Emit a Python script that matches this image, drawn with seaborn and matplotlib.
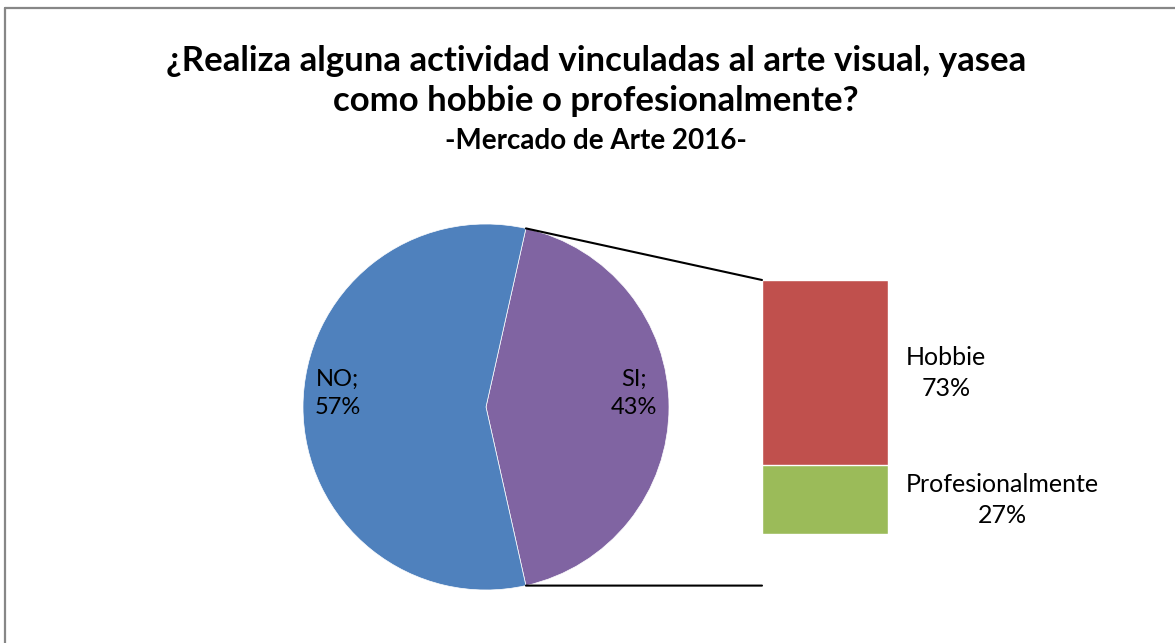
import matplotlib.pyplot as plt
import pandas as pd
import seaborn as sns
import numpy as np
from matplotlib.patches import ConnectionPatch
from matplotlib.lines import Line2D
from matplotlib.transforms import blended_transform_factory

sns.set_theme(style="white")
plt.rcParams["font.family"] = ["Lato", "DejaVu Sans"]
plt.rcParams["text.color"] = "black"

# pie data
pieLabels = ["SI", "NO"]
pieValues = [43, 57]
pieColors = ["#8064A2", "#4F81BD"]

# breakdown of "SI"
barLabels = ["Profesionalmente", "Hobbie"]
barValues = [27, 73]
barColors = ["#9BBB59", "#C0504D"]

titleLines = ["¿Realiza alguna actividad vinculadas al arte visual, yasea",
              "como hobbie o profesionalmente?"]
subTitle = "-Mercado de Arte 2016-"

W, H = 1175, 643
fig = plt.figure(figsize=(W / 100, H / 100), dpi=100)

# frame around chart
fig.add_artist(Line2D([5 / W, 5 / W], [0, 1 - 8 / H], color="#878787", lw=1.6, transform=fig.transFigure))
fig.add_artist(Line2D([5 / W, 1], [1 - 8 / H, 1 - 8 / H], color="#878787", lw=1.6, transform=fig.transFigure))

# pie
axPie = fig.add_axes([303 / W, 53 / H, 366 / W, 366 / H])
startAng = -pieValues[0] / 100 * 180
wedges, texts, autotexts = axPie.pie(
    pieValues, colors=pieColors, startangle=startAng, counterclock=True,
    autopct="%d%%", pctdistance=0.81, radius=1,
    wedgeprops=dict(edgecolor="white", linewidth=0.5),
    textprops=dict(fontsize=17, color="black"))
for t, lab, v in zip(autotexts, pieLabels, pieValues):
    t.set_text(f"{lab};\n{v}%")
    t.set_linespacing(1.45)
    x, y = t.get_position()
    t.set_position((x, y + 0.075))
axPie.set_xlim(-1, 1)
axPie.set_ylim(-1, 1)
axPie.set_aspect("equal")
axPie.axis("off")

# stacked bar (cumulative so the red bar sits on top of the green one)
df = pd.DataFrame({"grupo": ["SI"], "prof": [barValues[0]], "total": [barValues[0] + barValues[1]]})
axBar = fig.add_axes([762 / W, 109 / H, 126 / W, 254 / H])
sns.barplot(data=df, x="grupo", y="total", color=barColors[1], width=1, saturation=1, ax=axBar)
sns.barplot(data=df, x="grupo", y="prof", color=barColors[0], width=1, saturation=1, ax=axBar)
axBar.set_xlim(-0.5, 0.5)
axBar.set_ylim(0, 100)
axBar.axis("off")

bottom = 0
for lab, v in zip(barLabels, barValues):
    axBar.text(1.143, bottom + v / 2, f"{lab}\n{v}%", transform=axBar.get_yaxis_transform(),
               ha="left", va="center", multialignment="center", fontsize=18, linespacing=1.4,
               color="black")
    bottom += v

# connector lines
th1 = np.deg2rad(-startAng)
th2 = np.deg2rad(startAng)
con1 = ConnectionPatch(xyA=(np.cos(th1), np.sin(th1)), coordsA=axPie.transData,
                       xyB=(0, 1), coordsB=axBar.transAxes, color="black", lw=1.5)
lowTrans = blended_transform_factory(axBar.transAxes, axPie.transData)
con2 = ConnectionPatch(xyA=(np.cos(th2), np.sin(th2)), coordsA=axPie.transData,
                       xyB=(0, np.sin(th2)), coordsB=lowTrans, color="black", lw=1.5)
fig.add_artist(con1)
fig.add_artist(con2)

# titles
fig.text(596 / W, 1 - 61 / H, titleLines[0], ha="center", va="center", fontsize=25, fontweight="bold", color="black")
fig.text(596 / W, 1 - 101 / H, titleLines[1], ha="center", va="center", fontsize=25, fontweight="bold", color="black")
fig.text(596 / W, 1 - 141 / H, subTitle, ha="center", va="center", fontsize=20, fontweight="bold", color="black")

fig.savefig("out.png", dpi=100, facecolor="white")
